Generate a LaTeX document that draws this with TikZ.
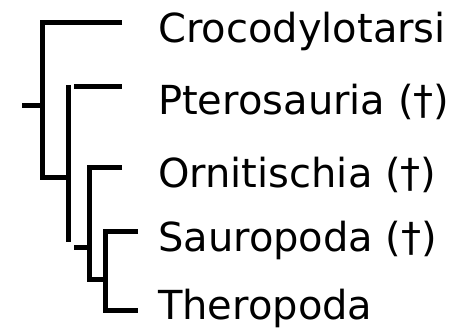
\documentclass[tikz,border=0pt]{standalone}
\usepackage{fontspec}
\setmainfont{DejaVu Sans}
\begin{document}
\begin{tikzpicture}[x=1pt, y=-1pt,
  branch/.style={line width=5pt, line cap=butt, line join=miter},
  taxon/.style={font=\fontsize{40}{48}\selectfont, anchor=base west, inner sep=0pt},
]
\useasboundingbox (0,0) rectangle (459,334);
% y grows downwards here, one unit = one pixel of the reference
% root and first split
\draw[branch] (22,106) -- (42,106);
\draw[branch] (122,22.5) -- (42,22.5) -- (42,177.5) -- (66,177.5);
% second split (Pterosauria vs. Dinosauria)
\draw[branch] (68,85) -- (68,242);
\draw[branch] (74,87) -- (122,87);
\draw[branch] (74,247.5) -- (88,247.5);
% third split (Ornitischia vs. Saurischia)
\draw[branch] (122,167.5) -- (89.5,167.5) -- (89.5,279.5) -- (104,279.5);
% fourth split (Sauropoda vs. Theropoda)
\draw[branch] (138,231.5) -- (105.5,231.5) -- (105.5,310.5) -- (138,310.5);

\foreach \n/\y/\txt in {
  croc/43/Crocodylotarsi,
  ptero/115/{Pterosauria (†)},
  ornit/188/{Ornitischia (†)},
  sauro/252/{Sauropoda (†)},
  thero/320/Theropoda
} {
  \node[taxon] (\n) at (158,\y) {\txt};
}
\end{tikzpicture}
\end{document}
